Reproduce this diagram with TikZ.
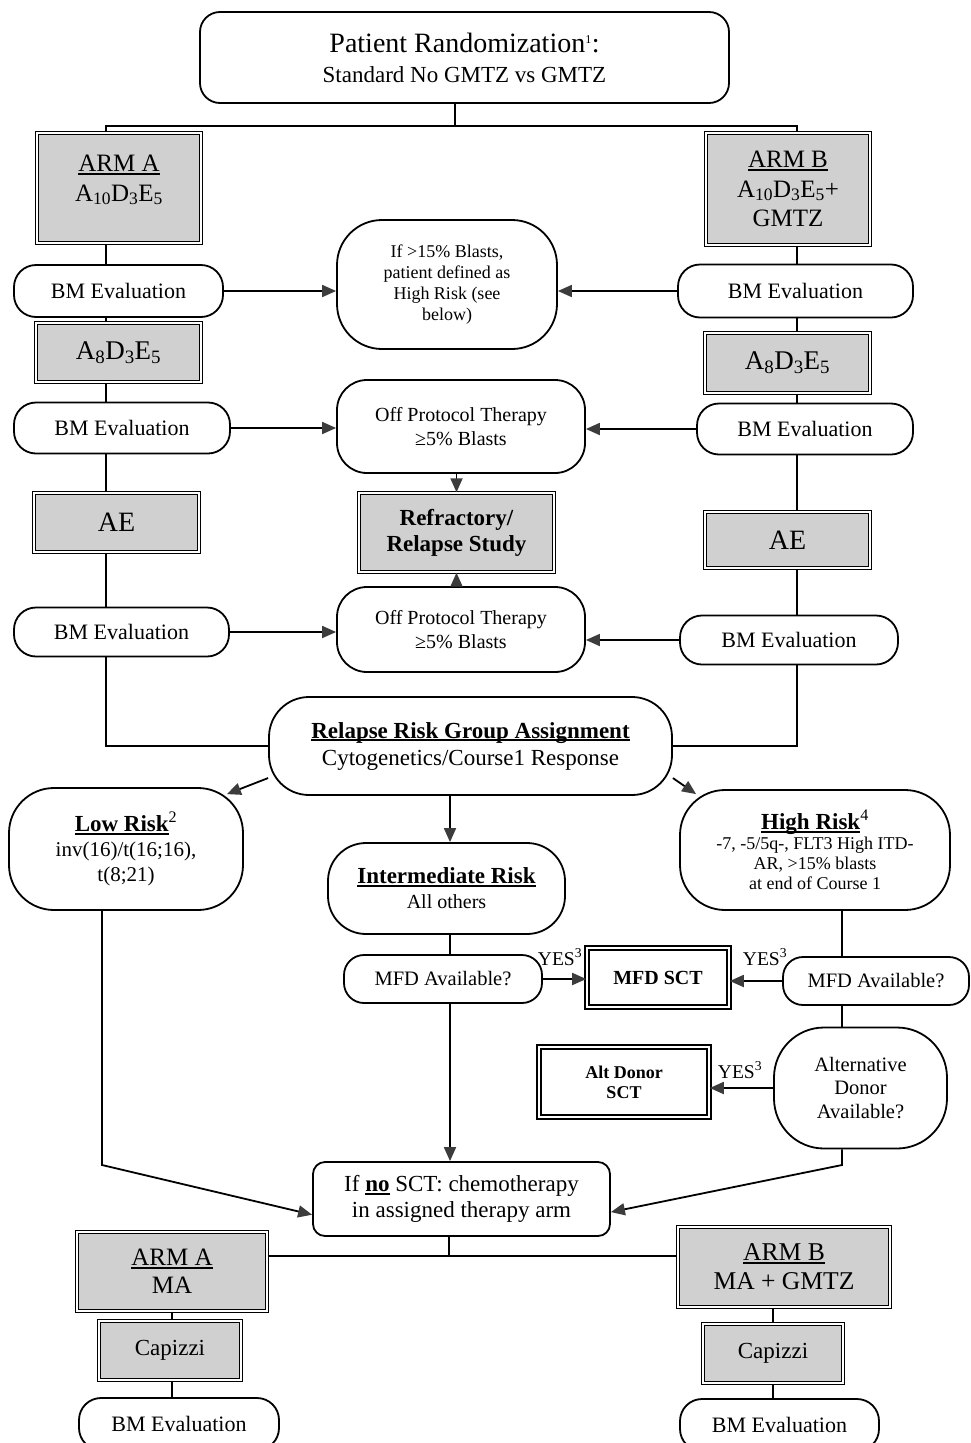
\documentclass[tikz,border=0pt]{standalone}
\usepackage{fontspec}
\setmainfont{Liberation Serif}
\usetikzlibrary{arrows.meta,calc}
\definecolor{boxgray}{RGB}{208,208,208}
\definecolor{tipgray}{RGB}{60,60,60}
\newcommand{\fsz}[2]{\fontsize{#1}{#2}\selectfont}
\newcommand{\ulin}[1]{\setbox0\hbox{#1}\rlap{\rule[-0.13em]{\wd0}{0.07em}}\box0}

\begin{document}
\begin{tikzpicture}[x=1pt,y=-1pt,line width=1.8,
    pill/.style={draw,fill=white,rounded corners=#1,align=center,inner sep=0pt,font=\fsz{22}{26}},
    pill/.default=22,
    graybox/.style={draw,fill=boxgray,line width=1.4,double=white,double distance=2,align=center,inner sep=0pt,font=\fsz{25}{30}},
    sctbox/.style={draw,fill=white,line width=1.6,double=white,double distance=2.2,align=center,inner sep=0pt},
    arr/.style={-{Triangle[length=14pt,width=12pt,color=tipgray]}}]
    \useasboundingbox (0,0) rectangle (971,1443);
    \fill[white] (0,0) rectangle (971,1443);
    \clip (0,0) rectangle (971,1443);

    \node[pill=20,minimum width=529,minimum height=91,font=\fsz{28}{30}] (rand) at (464.5,57.5) {Patient Randomization\textsuperscript{\fsz{12}{12}1}:\\\fsz{23}{30}Standard No GMTZ vs GMTZ};
    \node[graybox,minimum width=164,minimum height=110] (armA) at (119,188) {\ulin{ARM A}\\A\textsubscript{10}D\textsubscript{3}E\textsubscript{5}\\[-10pt]\mbox{}};
    \node[graybox,minimum width=164,minimum height=112,font=\fsz{25}{29.5}] (armB) at (788,189) {\ulin{ARM B}\\A\textsubscript{10}D\textsubscript{3}E\textsubscript{5}+\\GMTZ};

    \node[pill,minimum width=209,minimum height=52] (bmA1) at (118.5,291) {BM Evaluation};
    \node[pill=45,minimum width=220,minimum height=129,font=\fsz{18}{21}] (risk15) at (447,284.5) {If >15\% Blasts,\\patient defined as\\High Risk (see\\below)};
    \node[pill,minimum width=235,minimum height=53] (bmB1) at (795.5,291) {BM Evaluation};
    \node[graybox,minimum width=165,minimum height=59,font=\fsz{27}{30}] (a8A) at (118.5,352.5) {A\textsubscript{8}D\textsubscript{3}E\textsubscript{5}};
    \node[graybox,minimum width=165,minimum height=60,font=\fsz{27}{30}] (a8B) at (787.5,363) {A\textsubscript{8}D\textsubscript{3}E\textsubscript{5}};

    \node[pill,minimum width=216,minimum height=51] (bmA2) at (122,428) {BM Evaluation};
    \node[pill=30,minimum width=248,minimum height=93,font=\fsz{20}{24}] (off1) at (461,426.5) {Off Protocol Therapy\\≥5\% Blasts};
    \node[pill,minimum width=216,minimum height=51] (bmB2) at (805,429) {BM Evaluation};
    \node[graybox,minimum width=195,minimum height=79,font=\bfseries\fsz{23}{26}] (refr) at (456.5,532.5) {Refractory/\\Relapse Study};
    \node[graybox,minimum width=165,minimum height=59,font=\fsz{28}{30}] (aeA) at (116.5,522.5) {AE};
    \node[graybox,minimum width=165,minimum height=56,font=\fsz{28}{30}] (aeB) at (787.5,540) {AE};
    \node[pill=30,minimum width=248,minimum height=85,font=\fsz{20}{24}] (off2) at (461,629.5) {Off Protocol Therapy\\≥5\% Blasts};
    \node[pill,minimum width=215,minimum height=49] (bmA3) at (121.5,632) {BM Evaluation};
    \node[pill,minimum width=218,minimum height=49] (bmB3) at (789,640) {BM Evaluation};

    \node[pill=40,minimum width=403,minimum height=98,font=\fsz{23}{27}] (relapse) at (470.5,746) {\textbf{\ulin{Relapse Risk Group Assignment}}\\Cytogenetics/Course1 Response};
    \node[pill=45,minimum width=234,minimum height=122,font=\fsz{21}{25}] (low) at (126,849) {{\fsz{23}{25}\textbf{\ulin{Low Risk}}\textsuperscript{2}}\\inv(16)/t(16;16),\\t(8;21)};
    \node[pill=45,minimum width=270,minimum height=120,font=\fsz{18}{20}] (high) at (815,850) {{\fsz{23}{25}\textbf{\ulin{High Risk}}\textsuperscript{4}}\\-7, -5/5q-, FLT3 High ITD-\\AR, >15\% blasts\\at end of Course 1};
    \node[pill=38,minimum width=237,minimum height=91,font=\fsz{20}{25}] (inter) at (446.5,888.5) {{\fsz{23}{25}\textbf{\ulin{Intermediate Risk}}}\\All others};
    \node[pill=20,minimum width=198,minimum height=48,font=\fsz{20.5}{24}] (mfdA) at (443,979) {MFD Available?};
    \node[sctbox,minimum width=142,minimum height=59,font=\bfseries\fsz{20}{24}] (mfdsct) at (658,977.5) {MFD SCT};
    \node[pill=20,minimum width=186,minimum height=48,font=\fsz{20.5}{24}] (mfdB) at (876,981) {MFD Available?};
    \node[pill=50,minimum width=173,minimum height=121,font=\fsz{20.5}{23.5}] (alt) at (860.5,1088) {Alternative\\Donor\\Available?};
    \node[sctbox,minimum width=170,minimum height=70,font=\bfseries\fsz{18}{20}] (altsct) at (624,1082) {Alt Donor\\SCT};
    \node[font=\fsz{19.5}{22}] (yesA) at (560,957) {YES\textsuperscript{3}};
    \node[font=\fsz{19.5}{22}] (yesB) at (765,957) {YES\textsuperscript{3}};
    \node[font=\fsz{19.5}{22}] (yesC) at (740,1070) {YES\textsuperscript{3}};

    \node[pill=12,minimum width=297,minimum height=74,font=\fsz{23}{26}] (chemo) at (461.5,1199) {If \textbf{\ulin{no}} SCT: chemotherapy\\in assigned therapy arm};
    \node[graybox,minimum width=190,minimum height=79,font=\fsz{25}{28}] (armA2) at (172,1271.5) {\ulin{ARM A}\\MA};
    \node[graybox,minimum width=212,minimum height=80,font=\fsz{25.6}{29}] (armB2) at (784,1267) {\ulin{ARM B}\\MA + GMTZ};
    \node[graybox,minimum width=142,minimum height=59,font=\fsz{23}{26}] (capA) at (170,1350.5) {Capizzi};
    \node[graybox,minimum width=140,minimum height=59,font=\fsz{23}{26}] (capB) at (773,1353.5) {Capizzi};
    \node[pill,minimum width=200,minimum height=52] (bmA4) at (179,1424) {BM Evaluation};
    \node[pill,minimum width=199,minimum height=52] (bmB4) at (779.5,1425) {BM Evaluation};

    \coordinate (colA) at (106,0);
    \coordinate (colB) at (797,0);
    \coordinate (colM) at (450,0);
    \coordinate (colH) at (842,0);
    \coordinate (split) at (455,126);
    \coordinate (kinkL) at (102,1165);
    \coordinate (kinkR) at (842,1165);
    \coordinate (hub) at (449,1256);

    \draw (split |- rand.south) -- (split);
    \draw (colA |- armA.north) -- (colA |- split) -- (colB |- split) -- (colB |- armB.north);
    \foreach \u/\v in {armA/bmA1,bmA1/a8A,a8A/bmA2,bmA2/aeA,aeA/bmA3}
        \draw (colA |- \u.south) -- (colA |- \v.north);
    \foreach \u/\v in {armB/bmB1,bmB1/a8B,a8B/bmB2,bmB2/aeB,aeB/bmB3}
        \draw (colB |- \u.south) -- (colB |- \v.north);
    \draw (colA |- bmA3.south) |- (relapse.west);
    \draw (colB |- bmB3.south) |- (relapse.east);

    \draw[arr] (bmA1.east) -- (bmA1.east -| risk15.west);
    \draw[arr] (bmB1.west) -- (bmB1.west -| risk15.east);
    \draw[arr] (bmA2.east) -- (bmA2.east -| off1.west);
    \draw[arr] (bmB2.west) -- (bmB2.west -| off1.east);
    \draw[arr] (bmA3.east) -- (bmA3.east -| off2.west);
    \draw[arr] (bmB3.west) -- (bmB3.west -| off2.east);
    \draw[arr] (refr.north |- off1.south) -- (refr.north);
    \draw[arr] (refr.south |- off2.north) -- (refr.south);

    \draw[arr] (relapse.189) -- ($(low.north east)+(-17,7)$);
    \draw[arr] (relapse.-9) -- ($(high.north west)+(17,5)$);
    \draw[arr] (colM |- relapse.south) -- (colM |- inter.north);
    \draw (colM |- inter.south) -- (colM |- mfdA.north);
    \draw[arr] (colM |- mfdA.south) -- (colM |- chemo.north);
    \draw[arr] (mfdA.east) -- (mfdA.east -| mfdsct.west);
    \draw[arr] (mfdB.west) -- (mfdB.west -| mfdsct.east);
    \draw (colH |- high.south) -- (colH |- mfdB.north);
    \draw (colH |- mfdB.south) -- (colH |- alt.north);
    \draw[arr] (alt.west) -- (alt.west -| altsct.east);
    \draw[arr] (low.south -| kinkL) -- (kinkL) -- (chemo.186);
    \draw[arr] (alt.south -| kinkR) -- (kinkR) -- (chemo.-5);

    \draw (hub |- chemo.south) -- (hub);
    \draw (armA2.east |- hub) -- (armB2.west |- hub);
    \draw (armA2.south) -- (armA2.south |- capA.north);
    \draw (armA2.south |- capA.south) -- (armA2.south |- bmA4.north);
    \draw (capB.north |- armB2.south) -- (capB.north);
    \draw (capB.south) -- (capB.south |- bmB4.north);
\end{tikzpicture}
\end{document}
